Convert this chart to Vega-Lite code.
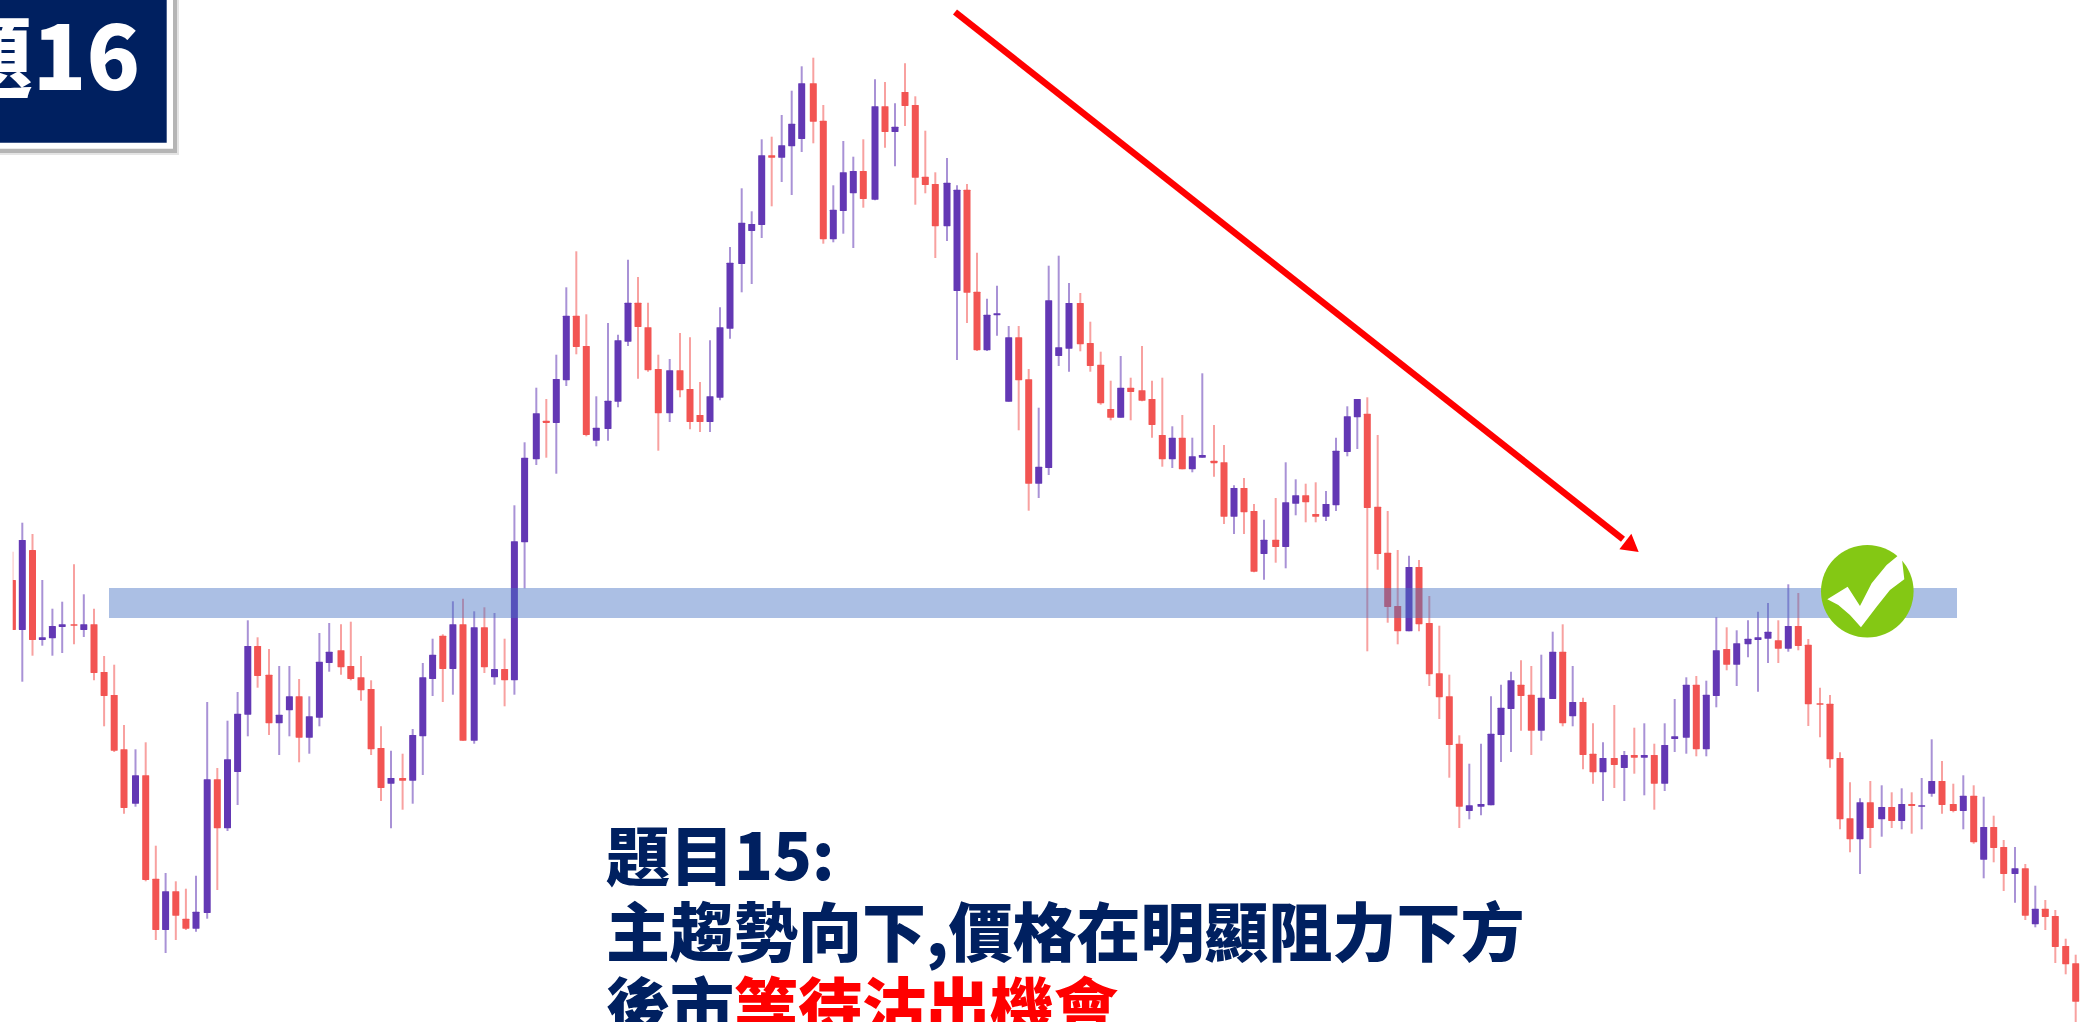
{"$schema":"https://vega.github.io/schema/vega-lite/v6.json","width":2082,"height":1022,"padding":0,"autosize":{"type":"none"},"background":"#ffffff","config":{"view":{"stroke":null}},
"datasets":{"candles":[
{"x":12.4,"o":580,"c":630,"h":551.7,"l":630,"d":"down"},
{"x":22.3,"o":630,"c":540,"h":522.7,"l":681.7,"d":"up"},
{"x":32.5,"o":550,"c":640,"h":534,"l":655.7,"d":"down"},
{"x":42.3,"o":640,"c":637.3,"h":580,"l":645.7,"d":"up"},
{"x":52.4,"o":638.3,"c":626,"h":608.7,"l":655.7,"d":"up"},
{"x":62.2,"o":627,"c":624.3,"h":601.7,"l":653,"d":"up"},
{"x":74,"o":624.3,"c":625.7,"h":564.3,"l":644.3,"d":"down"},
{"x":83.8,"o":630,"c":624.3,"h":594.3,"l":637,"d":"up"},
{"x":94,"o":624.3,"c":673,"h":608.7,"l":680.3,"d":"down"},
{"x":104.1,"o":672,"c":696,"h":656,"l":726.3,"d":"down"},
{"x":114.2,"o":695,"c":750.7,"h":664.7,"l":752,"d":"down"},
{"x":124,"o":749.3,"c":808,"h":725,"l":813.7,"d":"down"},
{"x":135.5,"o":803.7,"c":775.3,"h":749.3,"l":806.7,"d":"up"},
{"x":145.7,"o":775.3,"c":880,"h":742.3,"l":881.3,"d":"down"},
{"x":155.8,"o":878.7,"c":930,"h":845.7,"l":940,"d":"down"},
{"x":165.6,"o":930,"c":891.3,"h":873,"l":953,"d":"up"},
{"x":175.8,"o":891.3,"c":915.7,"h":881.3,"l":940,"d":"down"},
{"x":185.9,"o":918.7,"c":928.7,"h":888.7,"l":930,"d":"down"},
{"x":196,"o":928.7,"c":911.7,"h":875.7,"l":931.7,"d":"up"},
{"x":207.2,"o":913,"c":779.3,"h":702,"l":918.7,"d":"up"},
{"x":217.3,"o":779.3,"c":828.3,"h":768,"l":890,"d":"down"},
{"x":227.5,"o":828.3,"c":759.3,"h":720.7,"l":831,"d":"up"},
{"x":237.6,"o":772,"c":713.7,"h":692,"l":805,"d":"up"},
{"x":247.8,"o":714.7,"c":646,"h":620.3,"l":736.3,"d":"up"},
{"x":257.6,"o":646,"c":676,"h":637.3,"l":687.7,"d":"down"},
{"x":269,"o":674.7,"c":723.3,"h":649,"l":735,"d":"down"},
{"x":279.2,"o":723.3,"c":714.7,"h":666,"l":755,"d":"up"},
{"x":289.4,"o":710.3,"c":696.3,"h":666,"l":736.3,"d":"up"},
{"x":299.1,"o":696.3,"c":737.7,"h":679,"l":762.3,"d":"down"},
{"x":309.3,"o":737.7,"c":716.3,"h":696.3,"l":753.7,"d":"up"},
{"x":319.4,"o":717.7,"c":661.7,"h":633,"l":726.3,"d":"up"},
{"x":329.2,"o":663,"c":651.7,"h":623,"l":671.7,"d":"up"},
{"x":341,"o":650.3,"c":667.3,"h":624.3,"l":674.7,"d":"down"},
{"x":350.8,"o":666,"c":679,"h":621.7,"l":680.3,"d":"down"},
{"x":361,"o":677.3,"c":690.3,"h":656,"l":700.7,"d":"down"},
{"x":371.1,"o":689,"c":749.3,"h":680.3,"l":755,"d":"down"},
{"x":381,"o":748,"c":788,"h":726.3,"l":801,"d":"down"},
{"x":391,"o":783.7,"c":778,"h":750.7,"l":828.3,"d":"up"},
{"x":402.6,"o":778,"c":780.7,"h":753.7,"l":809.7,"d":"down"},
{"x":412.7,"o":780.7,"c":735,"h":729,"l":803.7,"d":"up"},
{"x":422.8,"o":736.3,"c":677.3,"h":663,"l":775,"d":"up"},
{"x":432.6,"o":679,"c":654.7,"h":638.7,"l":696,"d":"up"},
{"x":442.8,"o":635.7,"c":669,"h":634.3,"l":702,"d":"down"},
{"x":452.9,"o":669,"c":624.3,"h":601.3,"l":694.7,"d":"up"},
{"x":463,"o":624.3,"c":740.7,"h":598.7,"l":740.7,"d":"down"},
{"x":474.2,"o":740.7,"c":627.3,"h":611.3,"l":743.7,"d":"up"},
{"x":484.4,"o":627.3,"c":667.3,"h":607.3,"l":673,"d":"down"},
{"x":494.5,"o":677.3,"c":669,"h":613,"l":684.7,"d":"up"},
{"x":504.6,"o":669,"c":680.3,"h":638.7,"l":706.3,"d":"down"},
{"x":514.4,"o":680.3,"c":541.3,"h":505.3,"l":694.7,"d":"up"},
{"x":524.6,"o":542.3,"c":457.7,"h":442.3,"l":588.3,"d":"up"},
{"x":536.3,"o":459.3,"c":413.3,"h":387.7,"l":465,"d":"up"},
{"x":546.3,"o":420.7,"c":423,"h":399,"l":457.7,"d":"down"},
{"x":556.3,"o":423,"c":379,"h":354.7,"l":473.7,"d":"up"},
{"x":566.3,"o":380.3,"c":315.7,"h":287.3,"l":386,"d":"up"},
{"x":576.3,"o":315.7,"c":347,"h":251.3,"l":354.3,"d":"down"},
{"x":586.3,"o":346,"c":435,"h":314.3,"l":436.3,"d":"down"},
{"x":596.3,"o":440.7,"c":427.7,"h":396.3,"l":446.3,"d":"up"},
{"x":608,"o":429,"c":400.7,"h":323,"l":440.7,"d":"up"},
{"x":618,"o":401.7,"c":340.3,"h":334.7,"l":407.3,"d":"up"},
{"x":628,"o":341.7,"c":302.7,"h":259.7,"l":346,"d":"up"},
{"x":638,"o":302.7,"c":327,"h":277,"l":378.7,"d":"down"},
{"x":648,"o":327.3,"c":370.3,"h":302.7,"l":371.7,"d":"down"},
{"x":658.3,"o":369,"c":413.3,"h":354.7,"l":450.7,"d":"down"},
{"x":669.7,"o":413.3,"c":370.3,"h":359,"l":422,"d":"up"},
{"x":680,"o":370.3,"c":390.3,"h":333,"l":397.3,"d":"down"},
{"x":690,"o":389,"c":422,"h":337.3,"l":429.3,"d":"down"},
{"x":700,"o":415,"c":422,"h":382,"l":432,"d":"down"},
{"x":710,"o":422,"c":396.3,"h":340.3,"l":432,"d":"up"},
{"x":720,"o":397.7,"c":327.3,"h":307.3,"l":400.3,"d":"up"},
{"x":730,"o":328.7,"c":262.7,"h":247,"l":338.7,"d":"up"},
{"x":741.7,"o":264,"c":222.7,"h":188.3,"l":292.3,"d":"up"},
{"x":751.7,"o":231,"c":224,"h":211.3,"l":284,"d":"up"},
{"x":761.7,"o":225,"c":155.3,"h":139.3,"l":238,"d":"up"},
{"x":771.7,"o":155.3,"c":157.7,"h":136.7,"l":206.3,"d":"down"},
{"x":781.7,"o":157.7,"c":145.3,"h":115,"l":182,"d":"up"},
{"x":791.7,"o":146.3,"c":123.7,"h":90.7,"l":195,"d":"up"},
{"x":801.7,"o":139,"c":83.3,"h":66.3,"l":152,"d":"up"},
{"x":813.3,"o":83.3,"c":121.7,"h":57.7,"l":143.3,"d":"down"},
{"x":823.3,"o":120.7,"c":239.3,"h":105,"l":243.7,"d":"down"},
{"x":833.3,"o":239.3,"c":209.7,"h":185.3,"l":242.3,"d":"up"},
{"x":843.3,"o":211,"c":172.3,"h":141,"l":233.7,"d":"up"},
{"x":853.3,"o":193.3,"c":171,"h":156.7,"l":248,"d":"up"},
{"x":863.3,"o":171,"c":199,"h":139.3,"l":207.7,"d":"down"},
{"x":875,"o":199.7,"c":106.3,"h":79.3,"l":200.3,"d":"up"},
{"x":885,"o":106.3,"c":132,"h":82,"l":147.7,"d":"down"},
{"x":895,"o":132,"c":126.7,"h":103.3,"l":166.3,"d":"up"},
{"x":905,"o":92,"c":106,"h":63.3,"l":126,"d":"down"},
{"x":915.3,"o":105,"c":177.7,"h":96.3,"l":204.7,"d":"down"},
{"x":925.3,"o":176.7,"c":185,"h":130.7,"l":193.3,"d":"down"},
{"x":935.3,"o":184,"c":226.3,"h":172.3,"l":258,"d":"down"},
{"x":947,"o":226.3,"c":182.7,"h":158,"l":241,"d":"up"},
{"x":957,"o":291,"c":189.7,"h":185.3,"l":360,"d":"up"},
{"x":967,"o":189.7,"c":292.7,"h":184,"l":323,"d":"down"},
{"x":977,"o":291.7,"c":350.3,"h":252.7,"l":351,"d":"down"},
{"x":987,"o":350.3,"c":314.7,"h":298.7,"l":351,"d":"up"},
{"x":997,"o":315.3,"c":313.3,"h":285.7,"l":335.7,"d":"up"},
{"x":1008.7,"o":401.7,"c":337.3,"h":326,"l":401.7,"d":"up"},
{"x":1018.7,"o":337.3,"c":380.3,"h":326,"l":430.3,"d":"down"},
{"x":1028.7,"o":379.3,"c":483.7,"h":369,"l":510.7,"d":"down"},
{"x":1038.7,"o":483.7,"c":466.7,"h":407.7,"l":498,"d":"up"},
{"x":1048.7,"o":468,"c":300.3,"h":265.7,"l":475,"d":"up"},
{"x":1058.7,"o":356,"c":347.3,"h":255.7,"l":366,"d":"up"},
{"x":1069,"o":348.7,"c":303,"h":283,"l":371.7,"d":"up"},
{"x":1080.3,"o":303,"c":344.3,"h":293,"l":351.3,"d":"down"},
{"x":1090.3,"o":343,"c":366,"h":321.7,"l":371.7,"d":"down"},
{"x":1100.7,"o":364.7,"c":403.3,"h":351.7,"l":404.7,"d":"down"},
{"x":1110.7,"o":409,"c":417.7,"h":380.7,"l":420.3,"d":"down"},
{"x":1120.7,"o":417.7,"c":387.7,"h":356,"l":417.7,"d":"up"},
{"x":1130.7,"o":387.7,"c":392,"h":377.7,"l":420.3,"d":"down"},
{"x":1142,"o":390.3,"c":400.7,"h":346,"l":401.3,"d":"down"},
{"x":1152,"o":399,"c":425,"h":380.7,"l":437.7,"d":"down"},
{"x":1162.3,"o":435,"c":459.3,"h":377.7,"l":466.7,"d":"down"},
{"x":1172.3,"o":459.3,"c":437.7,"h":426.3,"l":468,"d":"up"},
{"x":1182.3,"o":437.7,"c":469.3,"h":415,"l":469.3,"d":"down"},
{"x":1192.3,"o":469.3,"c":456.3,"h":437.7,"l":472.3,"d":"up"},
{"x":1202.3,"o":457.7,"c":455,"h":373.3,"l":457.7,"d":"up"},
{"x":1214,"o":460.7,"c":463.3,"h":425,"l":476.7,"d":"down"},
{"x":1224,"o":462.3,"c":516.7,"h":445,"l":524,"d":"down"},
{"x":1234,"o":516.7,"c":488,"h":485.3,"l":534,"d":"up"},
{"x":1244,"o":488,"c":512.3,"h":478,"l":534,"d":"down"},
{"x":1254,"o":511,"c":571.7,"h":504,"l":572.3,"d":"down"},
{"x":1264,"o":554,"c":539.7,"h":519.7,"l":579.7,"d":"up"},
{"x":1275.7,"o":539.7,"c":547,"h":498,"l":562.7,"d":"down"},
{"x":1285.7,"o":547,"c":502.3,"h":462.3,"l":568.3,"d":"up"},
{"x":1295.7,"o":503.7,"c":495.3,"h":479.3,"l":515.3,"d":"up"},
{"x":1305.7,"o":495.3,"c":502.3,"h":483.7,"l":522.3,"d":"down"},
{"x":1315.7,"o":514,"c":516.7,"h":482.3,"l":522.3,"d":"down"},
{"x":1326,"o":516.7,"c":504,"h":491,"l":521,"d":"up"},
{"x":1336,"o":505.3,"c":450.7,"h":437.7,"l":511,"d":"up"},
{"x":1347.3,"o":452,"c":416.3,"h":406.3,"l":456.3,"d":"up"},
{"x":1357.3,"o":417.3,"c":399,"h":399,"l":449,"d":"up"},
{"x":1367.3,"o":413.7,"c":508,"h":397.3,"l":651.3,"d":"down"},
{"x":1377.7,"o":506.7,"c":554,"h":435,"l":569.7,"d":"down"},
{"x":1387.7,"o":552.7,"c":607,"h":511,"l":622.7,"d":"down"},
{"x":1397.7,"o":606,"c":631.3,"h":550,"l":644.3,"d":"down"},
{"x":1409,"o":631.3,"c":567,"h":555.7,"l":631.3,"d":"up"},
{"x":1419,"o":567,"c":624.3,"h":560,"l":631.3,"d":"down"},
{"x":1429.3,"o":623,"c":674.3,"h":596,"l":686,"d":"down"},
{"x":1439.3,"o":673.3,"c":697.3,"h":625.7,"l":719,"d":"down"},
{"x":1449.3,"o":696.3,"c":745,"h":674.7,"l":777.7,"d":"down"},
{"x":1459.3,"o":743.7,"c":806.7,"h":735.3,"l":828,"d":"down"},
{"x":1469.3,"o":811,"c":805.3,"h":763.7,"l":819.3,"d":"up"},
{"x":1481,"o":806.7,"c":804,"h":743.7,"l":815.3,"d":"up"},
{"x":1491,"o":805.3,"c":733.7,"h":696.3,"l":805.3,"d":"up"},
{"x":1501,"o":735,"c":707.7,"h":684.7,"l":762,"d":"up"},
{"x":1511,"o":709,"c":680.3,"h":671.7,"l":752,"d":"up"},
{"x":1521,"o":684.7,"c":696,"h":660.3,"l":730.7,"d":"down"},
{"x":1531.3,"o":694.7,"c":730.7,"h":666,"l":755,"d":"down"},
{"x":1541.3,"o":730.7,"c":697.7,"h":654.7,"l":740.7,"d":"up"},
{"x":1552.7,"o":699,"c":651.7,"h":631.7,"l":699,"d":"up"},
{"x":1562.7,"o":651.7,"c":723.3,"h":624.3,"l":726.3,"d":"down"},
{"x":1572.7,"o":716.3,"c":702,"h":666,"l":726.3,"d":"up"},
{"x":1583,"o":702,"c":755,"h":697.7,"l":769.3,"d":"down"},
{"x":1593,"o":753.7,"c":772.3,"h":723.3,"l":783.7,"d":"down"},
{"x":1603,"o":772.3,"c":758,"h":742.3,"l":801,"d":"up"},
{"x":1614.3,"o":758,"c":765,"h":705,"l":788,"d":"down"},
{"x":1624.3,"o":768,"c":755,"h":751,"l":801,"d":"up"},
{"x":1634.3,"o":755,"c":757.7,"h":727.7,"l":773.7,"d":"down"},
{"x":1644.3,"o":757.7,"c":755,"h":723.3,"l":795.3,"d":"up"},
{"x":1654.3,"o":755,"c":783.7,"h":743.7,"l":809.7,"d":"down"},
{"x":1664.7,"o":783.7,"c":745,"h":723.3,"l":791,"d":"up"},
{"x":1674.7,"o":739,"c":736.3,"h":699,"l":752,"d":"up"},
{"x":1686.3,"o":737.7,"c":684.7,"h":677.3,"l":753.7,"d":"up"},
{"x":1696.3,"o":684.7,"c":749.3,"h":676,"l":756.3,"d":"down"},
{"x":1706.3,"o":749.3,"c":694.7,"h":680.7,"l":756.3,"d":"up"},
{"x":1716.3,"o":696,"c":650.3,"h":617.3,"l":707.3,"d":"up"},
{"x":1726.7,"o":649,"c":664.7,"h":627.3,"l":670.3,"d":"down"},
{"x":1736.7,"o":664.7,"c":643.3,"h":630.3,"l":686,"d":"up"},
{"x":1748,"o":644.3,"c":638.7,"h":620.3,"l":657.3,"d":"up"},
{"x":1758,"o":640,"c":637.3,"h":611.7,"l":691.7,"d":"up"},
{"x":1768,"o":638.7,"c":631.7,"h":603,"l":663,"d":"up"},
{"x":1778.3,"o":640.3,"c":648.7,"h":620.3,"l":663,"d":"down"},
{"x":1788.3,"o":648.7,"c":626,"h":584.3,"l":651.7,"d":"up"},
{"x":1798.3,"o":626,"c":646,"h":593,"l":650.3,"d":"down"},
{"x":1808.3,"o":644.7,"c":704.3,"h":639,"l":726,"d":"down"},
{"x":1820,"o":703.3,"c":704.7,"h":687.7,"l":737.3,"d":"down"},
{"x":1830,"o":703.7,"c":759.3,"h":695,"l":767.7,"d":"down"},
{"x":1840,"o":758,"c":819.3,"h":752.3,"l":829.3,"d":"down"},
{"x":1850,"o":818.3,"c":839.3,"h":782.3,"l":852.3,"d":"down"},
{"x":1860,"o":839.3,"c":802.3,"h":798.3,"l":874,"d":"up"},
{"x":1870.3,"o":802.3,"c":828,"h":781,"l":848,"d":"down"},
{"x":1881.7,"o":819.3,"c":807,"h":785.3,"l":836.7,"d":"up"},
{"x":1891.7,"o":807,"c":821,"h":792.3,"l":828,"d":"down"},
{"x":1901.7,"o":821,"c":804,"h":788.3,"l":829.3,"d":"up"},
{"x":1911.7,"o":804,"c":806,"h":792.3,"l":833.7,"d":"down"},
{"x":1921.7,"o":806.7,"c":805.3,"h":778,"l":829.3,"d":"up"},
{"x":1931.7,"o":793.7,"c":781,"h":739.3,"l":796.7,"d":"up"},
{"x":1942,"o":781,"c":805,"h":761,"l":813.7,"d":"down"},
{"x":1953.3,"o":804,"c":811,"h":783.7,"l":812.3,"d":"down"},
{"x":1963.3,"o":811,"c":795.7,"h":775.3,"l":829.3,"d":"up"},
{"x":1973.7,"o":795.7,"c":842.3,"h":785.3,"l":843.7,"d":"down"},
{"x":1983.7,"o":859.7,"c":827,"h":796.7,"l":878.3,"d":"up"},
{"x":1993.7,"o":827,"c":848,"h":815.7,"l":862.3,"d":"down"},
{"x":2003.7,"o":847,"c":874,"h":840,"l":891,"d":"down"},
{"x":2015,"o":874,"c":868.3,"h":847,"l":902.7,"d":"up"},
{"x":2025.3,"o":868.3,"c":915.7,"h":864,"l":920,"d":"down"},
{"x":2035.3,"o":924.3,"c":908.7,"h":885.7,"l":927.3,"d":"up"},
{"x":2045.3,"o":908.7,"c":917,"h":900,"l":930,"d":"down"},
{"x":2055.3,"o":916,"c":947,"h":910,"l":963,"d":"down"},
{"x":2065.7,"o":946,"c":964.3,"h":938.7,"l":974.3,"d":"down"},
{"x":2075.7,"o":963.3,"c":1001.7,"h":954.7,"l":1022,"d":"down"}
],
"zones":[{"name":"resistance","x":109,"x2":1957,"y":588,"y2":618}],
"boxes":[
{"kind":"mask","x":-5,"x2":12.7,"y":540,"y2":690},
{"kind":"halo","x":-10,"x2":179,"y":-10,"y2":155},
{"kind":"shadow","x":-10,"x2":177,"y":-10,"y2":153},
{"kind":"frame","x":-10,"x2":173,"y":-10,"y2":148.7},
{"kind":"fill","x":-10,"x2":166.7,"y":-10,"y2":142.7}
],
"titles":[
{"label":"題目15:","x":606,"y":880,"tone":"navy"},
{"label":"主趨勢向下,價格在明顯阻力下方","x":606,"y":956,"tone":"navy"},
{"label":"後市","x":606,"y":1031,"tone":"navy"},
{"label":"等待沽出機會","x":734,"y":1031,"tone":"red"}
]},
"layer":[
{"data":{"name":"candles"},"mark":{"type":"rule","strokeWidth":2,"opacity":0.55},"encoding":{"x":{"field":"x","type":"quantitative","scale":{"domain":[0,2082],"nice":false,"zero":false,"padding":0},"axis":null},"y":{"field":"h","type":"quantitative","scale":{"domain":[1022,0],"nice":false,"zero":false},"axis":null},"y2":{"field":"l"},"color":{"field":"d","type":"nominal","scale":{"domain":["up","down"],"range":["#6338b4","#f25452"]},"legend":null}}},
{"data":{"name":"candles"},"mark":{"type":"bar","size":7,"cornerRadius":0.5},"encoding":{"x":{"field":"x","type":"quantitative"},"y":{"field":"o","type":"quantitative"},"y2":{"field":"c"},"color":{"field":"d","type":"nominal","scale":{"domain":["up","down"],"range":["#6338b4","#f25452"]},"legend":null}}},
{"data":{"name":"boxes"},"transform":[{"filter":"datum.kind==='mask'"}],"mark":{"type":"rect","fill":"#ffffff"},"encoding":{"x":{"field":"x","type":"quantitative"},"x2":{"field":"x2"},"y":{"field":"y","type":"quantitative"},"y2":{"field":"y2"}}},
{"data":{"name":"zones"},"mark":{"type":"rect","fill":"#4472c4","opacity":0.45},"encoding":{"x":{"field":"x","type":"quantitative"},"x2":{"field":"x2"},"y":{"field":"y","type":"quantitative"},"y2":{"field":"y2"}}},
{"data":{"values":[{"x":955,"y":12,"x2":1623,"y2":539.3}]},"mark":{"type":"rule","stroke":"#ff0000","strokeWidth":6.5},"encoding":{"x":{"field":"x","type":"quantitative"},"x2":{"field":"x2"},"y":{"field":"y","type":"quantitative"},"y2":{"field":"y2"}}},
{"data":{"values":[{"x":1629.8,"y":545}]},"mark":{"type":"point","shape":"triangle","filled":true,"fill":"#ff0000","opacity":1,"size":380,"angle":128,"strokeWidth":0},"encoding":{"x":{"field":"x","type":"quantitative"},"y":{"field":"y","type":"quantitative"}}},
{"data":{"values":[{"x":1867.3,"y":591.3}]},"mark":{"type":"point","shape":"circle","filled":true,"fill":"#84c814","opacity":1,"size":8575,"strokeWidth":0},"encoding":{"x":{"field":"x","type":"quantitative"},"y":{"field":"y","type":"quantitative"}}},
{"data":{"values":[{"x":1867.3,"y":591.3}]},"mark":{"type":"point","shape":"M-0.96 0.192L-0.472 -0.112L-0.176 0.352L0.104 -0.192L0.464 -0.632L0.808 -0.912L0.84 -0.712L0.888 -0.288L0.544 -0.032L0.224 0.368L-0.152 0.864L-0.416 0.568L-0.696 0.328Z","filled":true,"fill":"#ffffff","opacity":1,"size":6944,"strokeWidth":0},"encoding":{"x":{"field":"x","type":"quantitative"},"y":{"field":"y","type":"quantitative"}}},
{"data":{"name":"boxes"},"transform":[{"filter":"datum.kind!=='mask'"}],"mark":{"type":"rect"},"encoding":{"x":{"field":"x","type":"quantitative"},"x2":{"field":"x2"},"y":{"field":"y","type":"quantitative"},"y2":{"field":"y2"},"fill":{"field":"kind","type":"nominal","scale":{"domain":["halo","shadow","frame","fill"],"range":["#e4e4e4","#b5b5b5","#ffffff","#002060"]},"legend":null},"order":{"field":"x2","sort":"descending"}}},
{"data":{"values":[{"label":"題16","x":140,"y":90}]},"mark":{"type":"text","align":"right","baseline":"alphabetic","font":"Noto Sans CJK TC","fontWeight":900,"fontSize":88,"fill":"#ffffff"},"encoding":{"x":{"field":"x","type":"quantitative"},"y":{"field":"y","type":"quantitative"},"text":{"field":"label"}}},
{"data":{"name":"titles"},"mark":{"type":"text","align":"left","baseline":"alphabetic","font":"Noto Sans CJK TC","fontWeight":900,"fontSize":64},"encoding":{"x":{"field":"x","type":"quantitative"},"y":{"field":"y","type":"quantitative"},"text":{"field":"label"},"color":{"field":"tone","type":"nominal","scale":{"domain":["navy","red"],"range":["#002060","#ff0000"]},"legend":null}}}
],
"resolve":{"scale":{"color":"independent","fill":"independent"}}}
